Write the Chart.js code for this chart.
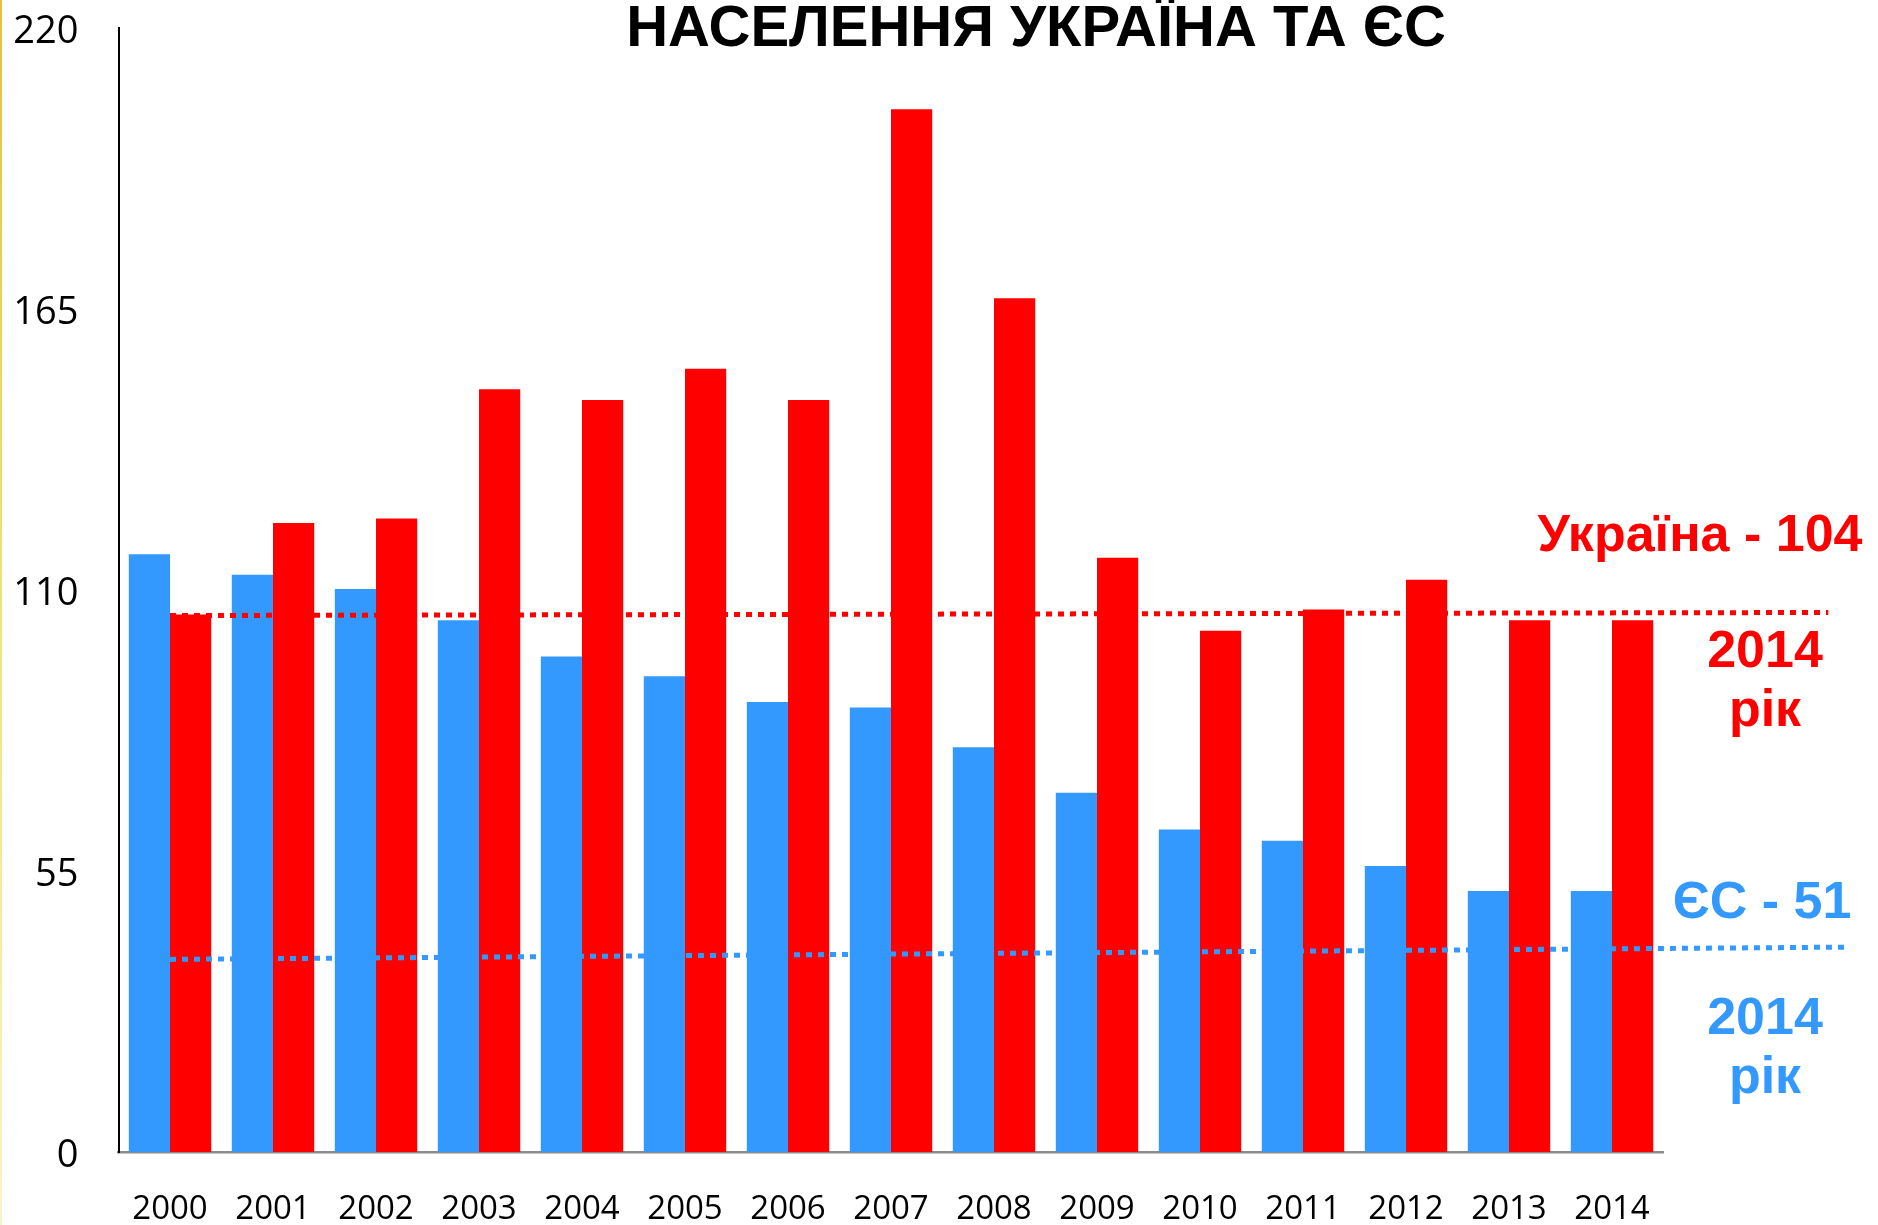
<!DOCTYPE html>
<html>
<head>
<meta charset="utf-8">
<script src="https://cdn.jsdelivr.net/npm/chart.js@4.4.1/dist/chart.umd.min.js"></script>
<style>
  html, body { margin: 0; padding: 0; background: #ffffff; }
  #wrap { position: relative; width: 1878px; height: 1225px; }
  #edge { position: absolute; left: 0; top: 0; width: 2px; height: 1225px;
          background: linear-gradient(#e2c23a, #f3e27a 50%, #fbf3c8); }
  canvas { display: block; }
</style>
</head>
<body>
<div id="wrap">
  <canvas id="c" width="1878" height="1225"></canvas>
  <div id="edge"></div>
</div>
<script>
// ---- data ----
const years = ['2000','2001','2002','2003','2004','2005','2006','2007','2008','2009','2010','2011','2012','2013','2014'];
const euValues = [117.0, 113.0, 110.2, 104.1, 97.0, 93.1, 88.1, 87.0, 79.2, 70.3, 63.1, 60.9, 56.0, 51.1, 51.1];
const uaValues = [105.2, 123.1, 124.0, 149.3, 147.2, 153.3, 147.2, 204.1, 167.1, 116.3, 102.0, 106.2, 112.0, 104.1, 104.1];
// dotted reference lines: positions in category units (0 = first year), values on the y scale
const uaTrendX = [0, 16.1];
const uaTrendY = [105.0, 105.6];
const euTrendX = [0, 16.28];
const euTrendY = [37.7, 40.1];
const yTicks = [0, 55, 110, 165, 220];
const titleText = 'НАСЕЛЕННЯ УКРАЇНА ТА ЄС';
const uaNote = ['Україна - 104', '2014', 'рік'];
const euNote = ['ЄС - 51', '2014', 'рік'];

const BLUE = '#3399ff';
const RED = '#ff0000';

// dotted lines drawn through the chart's own x/y scales
const trendPlugin = {
  id: 'trends',
  afterDatasetsDraw(chart) {
    const xs = chart.scales.x, ys = chart.scales.y, ctx = chart.ctx;
    const p0 = xs.getPixelForValue(0), step = xs.getPixelForValue(1) - p0;
    const xp = v => p0 + v * step;
    const draw = (X, Y, color) => {
      ctx.save();
      ctx.strokeStyle = color;
      ctx.lineWidth = 5;
      ctx.lineCap = 'butt';
      ctx.setLineDash([6, 6]);
      ctx.beginPath();
      X.forEach((x, i) => {
        const px = xp(x), py = ys.getPixelForValue(Y[i]);
        if (i === 0) ctx.moveTo(px, py); else ctx.lineTo(px, py);
      });
      ctx.stroke();
      ctx.restore();
    };
    draw(uaTrendX, uaTrendY, RED);
    draw(euTrendX, euTrendY, BLUE);
  }
};

const textPlugin = {
  id: 'texts',
  afterDraw(chart) {
    const ctx = chart.ctx;
    ctx.save();
    ctx.textAlign = 'center';
    ctx.textBaseline = 'alphabetic';
    ctx.fillStyle = '#000';
    ctx.font = 'bold 58px "Liberation Sans", Arial, sans-serif';
    ctx.fillText(titleText, 1036, 46);

    ctx.font = 'bold 52px "Liberation Sans", Arial, sans-serif';
    ctx.fillStyle = RED;
    ctx.fillText(uaNote[0], 1700, 551);
    ctx.fillText(uaNote[1], 1765, 667);
    ctx.fillText(uaNote[2], 1765, 726);
    ctx.fillStyle = BLUE;
    ctx.fillText(euNote[0], 1762, 918);
    ctx.fillText(euNote[1], 1765, 1034);
    ctx.fillText(euNote[2], 1765, 1093);
    ctx.restore();
  }
};

new Chart(document.getElementById('c'), {
  type: 'bar',
  data: {
    labels: years,
    datasets: [
      { label: 'ЄС', data: euValues, backgroundColor: BLUE, borderWidth: 0,
        categoryPercentage: 0.8, barPercentage: 1.0 },
      { label: 'Україна', data: uaValues, backgroundColor: RED, borderWidth: 0,
        categoryPercentage: 0.8, barPercentage: 1.0 }
    ]
  },
  options: {
    responsive: false,
    animation: false,
    layout: { padding: { top: 28, right: 214.5, left: 0, bottom: 0 } },
    plugins: { legend: { display: false }, tooltip: { enabled: false }, title: { display: false } },
    scales: {
      x: {
        type: 'category',
        grid: { display: false, drawTicks: false },
        border: { display: true, color: '#8c8c8c', width: 2.5 },
        ticks: { color: '#000', font: { family: '"Open Sans", sans-serif', size: 33 }, padding: 38, maxRotation: 0, autoSkip: false },
        afterFit(s) { s.height = 73; }
      },
      y: {
        min: 0, max: 220,
        afterBuildTicks(s) { s.ticks = yTicks.map(v => ({ value: v })); },
        grid: { display: false, drawTicks: false },
        border: { display: true, color: '#000', width: 2 },
        ticks: { color: '#000', font: { family: '"Open Sans", sans-serif', size: 38 }, padding: 40, labelOffset: 4 },
        afterFit(s) { s.width = 118.5; s.paddingTop = 0; s.paddingBottom = 0; }
      }
    }
  },
  plugins: [trendPlugin, textPlugin]
});
</script>
</body>
</html>
